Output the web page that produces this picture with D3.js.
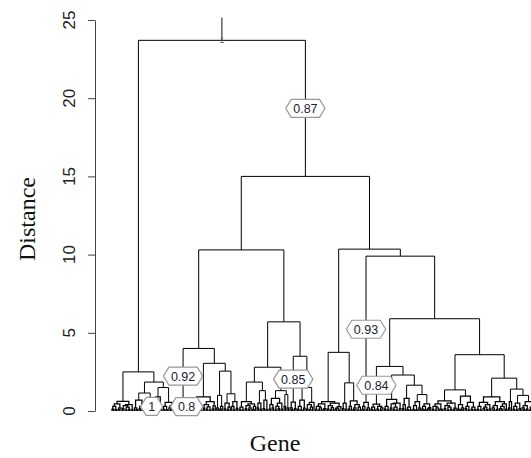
<!DOCTYPE html>
<html>
<head>
<meta charset="utf-8">
<script src="https://cdn.jsdelivr.net/npm/d3@7"></script>
<style>
body { margin: 0; background: #fff; }
</style>
</head>
<body>
<script>
// low clusters, left to right: height at which each leaf joins its right neighbour
const tuftGaps = [
  [0.12,0.3,0.08,0.45,0.1,0.2,0.62,0.15,0.35,0.06,0.25,0.1,0.4,0.07],      // 0
  [0.2,0.09,0.7,0.14,0.3,0.05,0.22,0.1],                                   // 1
  [0.15,0.5,0.083],                                                        // 2
  [0.18,0.4,0.9,0.11,0.26],                                                // 3
  [0.1,0.3,0.07,0.55,0.2,0.09,0.35,0.12],                                  // 4
  [0.2,0.06,0.3,0.12,0.462,0.05,0.101,0.04,0.07],                          // 5
  [0.15,0.3,0.08,0.5,0.12,0.22,0.06,0.9,0.18,0.4,0.1,0.27,0.05,0.6,0.14,0.33], // 6
  [0.2,1.0,0.12,0.3],                                                      // 7
  [0.14,0.5,0.09,0.25,1.1,0.3,0.07,0.6,0.16],                              // 8
  [0.1,0.25,0.06,0.6,0.15,0.35,0.08,0.2,0.45,0.11,0.3],                    // 9
  [0.2,0.5,0.1,1.3,0.15,0.7,0.09],                                         // 10
  [0.12,0.4,0.2,0.8,0.07,0.3,0.15,0.5,0.1],                                // 11
  [0.3,1.05,0.2],                                                          // 12
  [0.2,0.08,0.571,0.15],                                                   // 13
  [0.1,0.3,0.06,0.7,0.18,1.5,0.12,0.4,0.09,0.25,0.55],                     // 14
  [0.1,0.3,0.05,0.2,0.45,0.08,0.15,0.6,0.12,0.35,0.07,0.22,0.5,0.1,0.18,0.06,0.28], // 15
  [0.15,0.5,0.1],                                                          // 16
  [0.12,0.3,0.65,0.08,0.2,0.4,0.06,0.25],                                  // 17
  [0.1,0.3,0.553,0.07,0.2],                                                // 18
  [0.1,0.25,0.06,0.443,0.12,0.3,0.05,0.2],                                 // 19
  [0.12,0.3,0.07,0.75,0.2,0.45,0.1,0.25,0.05,0.5,0.15],                    // 20
  [0.15,0.4,0.8,0.1,0.25,0.06],                                            // 21
  [0.1,0.35,0.07,0.6,0.2,1.05,0.12,0.3,0.08,0.45,0.15,0.22],               // 22
  [0.1,0.3,0.06,0.2,0.45,0.12,0.08,0.65,0.15,0.35,0.05,0.25,0.1,0.5,0.07,0.18], // 23
  [0.12,0.4,0.08,0.2,0.95,0.15,0.3,0.06,0.55,0.1,0.25,0.09],               // 24
  [0.1,0.3,0.05,0.55,0.15,0.25,0.08,0.4,0.12,0.9,0.2,0.06,0.35,0.1,0.6,0.15,0.07,0.3,0.45,0.11], // 25
  [0.2,0.6],                                                               // 26
  [0.1,0.3,0.07,0.5,0.15,1.0,0.2,0.08,0.35,0.12,0.6,0.05,0.25,0.18]        // 27
];

// upper merges: [height, left, right]; a plain number points into tuftGaps
const mergeTree =
  [23.7,
    [2.5, 0, [1.85, [1.15, 1, 2], [1.5, 3, 4]]],
    [15.0,
      [10.3,
        [4.0, 5, [3.05, 6, [2.55, 7, 8]]],
        [5.7, [2.8, [1.85, 9, 10], [1.3, 11, 12]], [3.5, 13, 14]]],
      [10.35,
        [3.75, 15, [1.8, 16, 17]],
        [9.9, 18,
          [5.9,
            [2.85, 19, [2.3, 20, [1.65, 21, 22]]],
            [3.6, [1.35, 23, 24], [2.1, 25, [1.4, 26, 27]]]]]]]];

// support values shown on the branch above the node of that height
const supportLabels  = ["0.87", "0.92", "0.8", "1", "0.85", "0.93", "0.84"];
const supportHeights = [15.0, 0.462, 0.101, 0.083, 0.571, 0.553, 0.443];
const rootLabel = "1";
const rootTop = 25.15;
const yTicks = [0, 5, 10, 15, 20, 25];

var width = 531, height = 458;

var svg = d3.select("body").append("svg")
    .attr("width", width)
    .attr("height", height);

// turn the data into a nested tree
var leafCount = 0;
function tuft(gaps, start) {
    function split(lo, hi) {
        if (lo === hi) return {h: 0, leaf: start + lo};
        var j = lo;
        for (var k = lo; k < hi; k++) if (gaps[k] > gaps[j]) j = k;
        return {h: gaps[j], children: [split(lo, j), split(j + 1, hi)]};
    }
    return split(0, gaps.length);
}
function build(n) {
    if (typeof n === "number") {
        var t = tuft(tuftGaps[n], leafCount);
        leafCount += tuftGaps[n].length + 1;
        return t;
    }
    return {h: n[0], children: [build(n[1]), build(n[2])]};
}
var root = d3.hierarchy(build(mergeTree));

var x = d3.scaleLinear().domain([0, leafCount - 1]).range([112, 534]);
var y = d3.scaleLinear().domain([0, 25]).range([411, 20]);

root.eachAfter(function(d) {
    d.px = d.children ? (d.children[0].px + d.children[1].px) / 2 : x(d.data.leaf);
    d.py = y(d.data.h);
});

// branches
var inner = root.descendants().filter(function(d) { return d.children; });
svg.append("g")
    .selectAll("path")
    .data(inner)
    .enter()
    .append("path")
    .attr("d", function(d) {
        var a = d.children[0], b = d.children[1];
        return "M" + a.px + "," + a.py + "V" + d.py + "H" + b.px + "V" + b.py;
    })
    .attr("fill", "none")
    .attr("stroke", "#000")
    .attr("stroke-width", function(d) { return d.data.h < 1 ? 1.25 : 1; });

svg.append("line")
    .attr("x1", root.px).attr("x2", root.px)
    .attr("y1", root.py).attr("y2", y(rootTop))
    .attr("stroke", "#111");

svg.append("text")
    .attr("x", root.px)
    .attr("y", root.py + 3)
    .attr("text-anchor", "middle")
    .attr("font-family", "Liberation Sans, Arial, sans-serif")
    .attr("font-size", 9)
    .attr("fill", "#666")
    .text(rootLabel);

// hexagon labels
var nodes = root.descendants();
supportLabels.forEach(function(lab, i) {
    var d = nodes.find(function(n) { return n.data.h === supportHeights[i]; });
    if (!d) return;
    var cx = d.px, cy = (d.parent.py + d.py) / 2;
    var g = svg.append("g").attr("transform", "translate(" + cx + "," + cy + ")");
    var hex = g.append("path");
    var t = g.append("text")
        .attr("text-anchor", "middle")
        .attr("dy", "0.36em")
        .attr("font-family", "Liberation Sans, Arial, sans-serif")
        .attr("font-size", 12.5)
        .attr("fill", "#1a2233")
        .text(lab);
    var w = t.node().getComputedTextLength() + 15, h = 18, c = 5.5;
    hex.attr("d", "M" + (-w / 2) + ",0L" + (-w / 2 + c) + "," + (-h / 2) + "H" + (w / 2 - c) +
            "L" + (w / 2) + ",0L" + (w / 2 - c) + "," + (h / 2) + "H" + (-w / 2 + c) + "Z")
        .attr("fill", "white")
        .attr("stroke", "#999")
        .attr("stroke-width", 1.2);
});

// y axis
var axis = svg.append("g")
    .attr("transform", "translate(95,0)")
    .call(d3.axisLeft(y).tickValues(yTicks).tickSize(7).tickSizeOuter(0));
axis.select(".domain").attr("stroke", "#444");
axis.selectAll(".tick line").attr("stroke", "#444");
axis.selectAll(".tick text").remove();

svg.append("g")
    .selectAll("text")
    .data(yTicks)
    .enter()
    .append("text")
    .attr("transform", function(d) { return "translate(75," + y(d) + ") rotate(-90)"; })
    .attr("text-anchor", "middle")
    .attr("font-family", "Liberation Sans, Arial, sans-serif")
    .attr("font-size", 17)
    .attr("fill", "#222")
    .text(function(d) { return d; });

svg.append("text")
    .attr("transform", "translate(35,219) rotate(-90)")
    .attr("text-anchor", "middle")
    .attr("font-family", "Liberation Serif, Times New Roman, serif")
    .attr("font-size", 24)
    .attr("fill", "#111")
    .text("Distance");

svg.append("text")
    .attr("x", 275)
    .attr("y", 451)
    .attr("text-anchor", "middle")
    .attr("font-family", "Liberation Serif, Times New Roman, serif")
    .attr("font-size", 24)
    .attr("fill", "#111")
    .text("Gene");
</script>
</body>
</html>
